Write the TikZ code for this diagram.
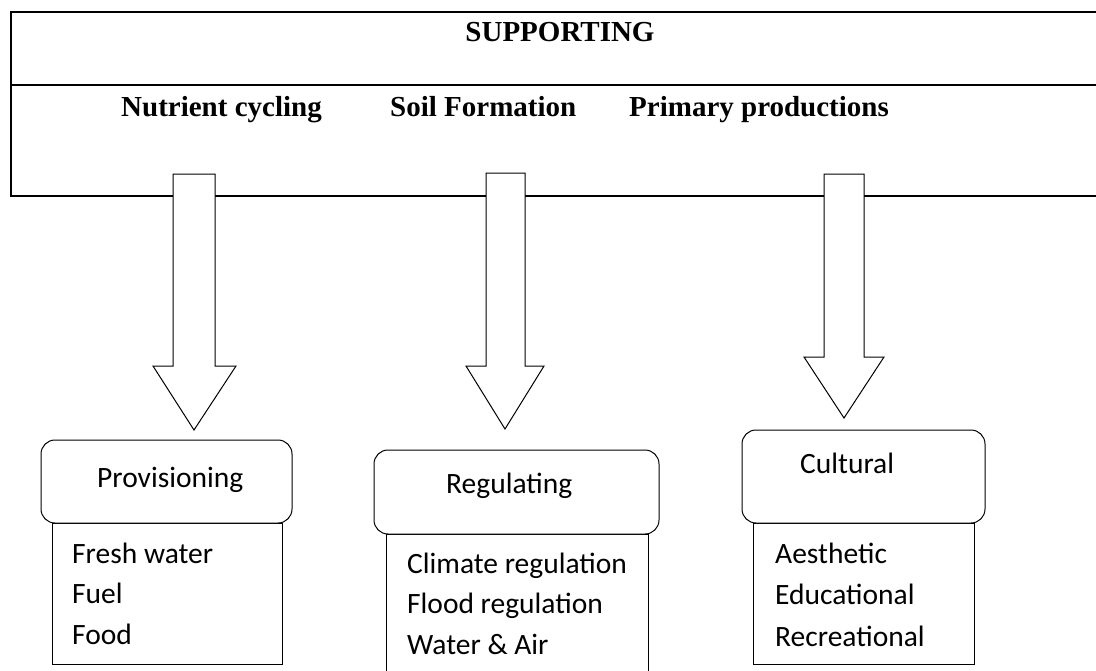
\documentclass[tikz,border=0pt]{standalone}
\usepackage{fontspec}
\setmainfont{Liberation Serif}
\newfontfamily\calfont{Carlito}
\begin{document}
\begin{tikzpicture}[x=1pt,y=-1pt,
  head/.style={font=\fontsize{29}{30}\selectfont\bfseries, anchor=base west, inner sep=0pt},
  lbl/.style={font=\calfont\fontsize{29.5}{30}\selectfont, anchor=base west, inner sep=0pt},
  frame/.style={line width=1.3pt},
  blockarrow/.style={draw, fill=white, line width=1pt, line join=miter},
  catbox/.style={draw, fill=white, line width=1pt, rounded corners=14pt},
  listbox/.style={draw, fill=white, line width=1pt}
]
\useasboundingbox (0,0) rectangle (1096,670);
% supporting frame
\draw[frame] (1100,12) -- (11,12) -- (11,196) -- (1100,196);
\draw[frame] (11,85) -- (1100,85);
\node[head, anchor=base] (sup) at (560,41) {SUPPORTING};
\node[head] (nut) at (121,116) {Nutrient cycling};
\node[head] (soil) at (390,116) {Soil Formation};
\node[head] (prim) at (629,116) {Primary productions};

% block arrows
\draw[blockarrow] (173,174) -- (215,174) -- (215,366) -- (236,366) -- (194,430) -- (153,366) -- (173,366) -- cycle;
\draw[blockarrow] (486,173) -- (525,173) -- (525,366) -- (544,366) -- (505,429) -- (466,366) -- (486,366) -- cycle;
\draw[blockarrow] (824,174) -- (864,174) -- (864,357) -- (884,357) -- (844,418) -- (804,357) -- (824,357) -- cycle;

% lower list boxes
\draw[listbox] (52,523) rectangle (282,664);
\draw[listbox] (386,534) rectangle (648,690);
\draw[listbox] (753,523) rectangle (974,664);
% category boxes
\draw[catbox] (41,440) rectangle (292,523);
\draw[catbox] (374,450) rectangle (659,534);
\draw[catbox] (742,430) rectangle (985,523);

\node[lbl] (prov) at (97,487) {Provisioning};
\node[lbl] (reg) at (446,493) {Regulating};
\node[lbl] (cult) at (800,473) {Cultural};

\node[lbl] (p1) at (72,563) {Fresh water};
\node[lbl] (p2) at (72,603) {Fuel};
\node[lbl] (p3) at (72,644) {Food};

\node[lbl] (r1) at (407,573) {Climate regulation};
\node[lbl] (r2) at (407,613) {Flood regulation};
\node[lbl] (r3) at (407,654) {Water \& Air};

\node[lbl] (c1) at (775,563) {Aesthetic};
\node[lbl] (c2) at (775,604) {Educational};
\node[lbl] (c3) at (775,646) {Recreational};
\end{tikzpicture}
\end{document}
